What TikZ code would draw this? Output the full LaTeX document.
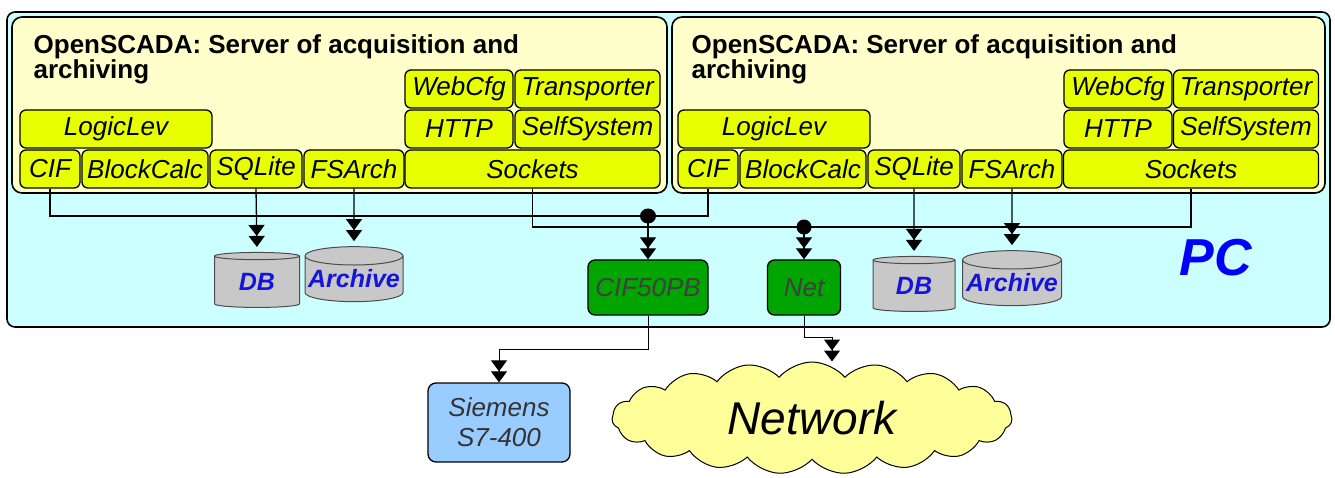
\documentclass[tikz,border=0pt]{standalone}
\usepackage{fontspec}
\setmainfont{Liberation Sans}
\usetikzlibrary{arrows.meta,shapes.geometric,shapes.symbols}
\definecolor{pcfill}{RGB}{204,255,255}
\definecolor{srvfill}{RGB}{255,255,204}
\definecolor{modfill}{RGB}{232,255,0}
\definecolor{dbfill}{RGB}{200,200,200}
\definecolor{dbtext}{RGB}{20,20,220}
\definecolor{hwgreen}{RGB}{0,165,0}
\definecolor{siemfill}{RGB}{153,204,255}
\definecolor{cloudfill}{RGB}{255,255,153}
\begin{document}
\begin{tikzpicture}[x=1pt, y=-1pt, line width=1.3pt,
    pc node/.style={draw, fill=pcfill, rounded corners=8pt, inner sep=0pt, line width=1.6pt},
    srv node/.style={draw, fill=srvfill, rounded corners=10pt, inner sep=0pt, line width=1.6pt},
    mod node/.style={draw, fill=modfill, rounded corners=6pt, inner sep=0pt, minimum height=38pt,
                     font=\fontsize{26}{26}\selectfont\itshape},
    db node/.style={draw=black!70, fill=dbfill, cylinder, shape border rotate=90, aspect=0.2,
                    inner sep=0pt, line width=1pt, minimum height=55pt,
                    font=\fontsize{25}{25}\selectfont\bfseries\itshape, text=dbtext},
    hw node/.style={draw, fill=hwgreen, rounded corners=7pt, inner sep=0pt, minimum height=55pt,
                    text=black!75, font=\fontsize{26}{26}\selectfont\itshape},
    title node/.style={anchor=north west, align=left, inner sep=0pt,
                       font=\fontsize{26}{25}\selectfont\bfseries},
    arr/.style={-{Triangle[length=11pt,width=16pt]Triangle[length=11pt,width=16pt]}}]

\useasboundingbox (0,0) rectangle (1335,478);

\node[pc node, minimum width=1323, minimum height=315] (pc) at (668.5,169.5) {};
\node[srv node, minimum width=655, minimum height=176] (srvL) at (339.5,105) {};
\node[srv node, minimum width=653, minimum height=176] (srvR) at (998.5,105) {};

\node[title node] (titleL) at (33,34) {OpenSCADA: Server of acquisition and\\archiving};
\node[title node] (titleR) at (691,34) {OpenSCADA: Server of acquisition and\\archiving};

% left server
\node[mod node, minimum width=108] (webL) at (459,89) {WebCfg};
\node[mod node, minimum width=145] (trL) at (587.5,89) {Transporter};
\node[mod node, minimum width=108] (httpL) at (459,129) {HTTP};
\node[mod node, minimum width=145] (ssL) at (587.5,129) {SelfSystem};
\node[mod node, minimum width=255] (sockL) at (532.5,169) {Sockets};
\node[mod node, minimum width=192] (logL) at (116,129) {LogicLev};
\node[mod node, minimum width=60] (cifL) at (50,169) {CIF};
\node[mod node, minimum width=126] (bcL) at (145,169) {BlockCalc};
\node[mod node, minimum width=92] (sqlL) at (256,169) {SQLite};
\node[mod node, minimum width=100] (fsL) at (354,169) {FSArch};

% right server
\node[mod node, minimum width=108] (webR) at (1118,89) {WebCfg};
\node[mod node, minimum width=145] (trR) at (1246,89) {Transporter};
\node[mod node, minimum width=108] (httpR) at (1118,129) {HTTP};
\node[mod node, minimum width=145] (ssR) at (1246,129) {SelfSystem};
\node[mod node, minimum width=255] (sockR) at (1191,169) {Sockets};
\node[mod node, minimum width=192] (logR) at (774,129) {LogicLev};
\node[mod node, minimum width=60] (cifR) at (708,169) {CIF};
\node[mod node, minimum width=126] (bcR) at (803,169) {BlockCalc};
\node[mod node, minimum width=92] (sqlR) at (914,169) {SQLite};
\node[mod node, minimum width=100] (fsR) at (1012,169) {FSArch};

% storages
\node[db node, minimum width=85] (dbL) at (257,282) {DB};
\node[db node, minimum width=98] (arL) at (354,279) {Archive};
\node[db node, minimum width=82] (dbR) at (914,286) {DB};
\node[db node, minimum width=99] (arR) at (1012,283) {Archive};

% hardware
\node[hw node, minimum width=120] (cif50) at (648,287.5) {CIF50PB};
\node[hw node, minimum width=73] (net) at (804,287.5) {Net};
\node[font=\fontsize{52}{52}\selectfont\bfseries\itshape, text=blue] (pclabel) at (1216,258) {PC};

\node[draw, fill=siemfill, rounded corners=8pt, minimum width=142, minimum height=79, inner sep=0pt,
      align=center, font=\fontsize{26}{30}\selectfont\itshape, text=black!80] (siem) at (499,422.5) {Siemens\\S7-400};
\node[draw, fill=cloudfill, cloud, cloud puffs=19, cloud puff arc=100, aspect=3.4, inner sep=0pt,
      minimum width=400, minimum height=112, line width=1pt,
      font=\fontsize{46}{46}\selectfont\itshape] (cloudnet) at (812,418) {Network};

\coordinate (j1) at (648,216);
\coordinate (j2) at (804,227);
\coordinate (cifbend) at (499,349);
\coordinate (netbend) at (832,337);

% buses
\draw (cifL.south) |- (j1) -| (cifR.south);
\draw (sockL.south) |- (j2) -| (sockR.south);
\fill (j1) ellipse (8pt and 7.5pt);
\fill (j2) ellipse (7.5pt and 7.5pt);

\draw[arr, shorten >=5pt] (sqlL.south) -- (dbL.north);
\draw[arr, shorten >=5pt] (fsL.south) -- (arL.north);
\draw[arr, shorten >=5pt] (sqlR.south) -- (dbR.north);
\draw[arr, shorten >=5pt] (fsR.south) -- (arR.north);
\draw[arr] (j1) -- (cif50.north);
\draw[arr] (j2) -- (net.north);
\draw[arr, line width=1pt] (cif50.south) |- (cifbend) -- (siem.north);
\draw[arr, line width=1pt] (net.south) |- (netbend) -- (netbend |- cloudnet.north);

\end{tikzpicture}
\end{document}
